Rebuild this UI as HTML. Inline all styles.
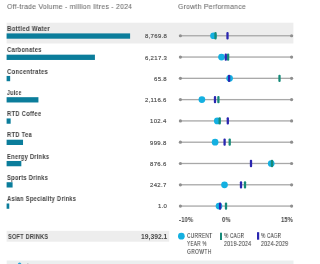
<!DOCTYPE html><html><head><meta charset="utf-8"><style>
html,body{margin:0;padding:0;background:#fff;}
body{width:300px;height:264px;overflow:hidden;position:relative;font-family:"Liberation Sans",sans-serif;}
.t{position:absolute;white-space:nowrap;will-change:transform;}
svg{position:absolute;left:0;top:0;}
</style></head><body>
<svg width="300" height="264" viewBox="0 0 300 264"><rect x="6.60" y="22.70" width="286.80" height="20.80" fill="#ededed"/><rect x="6.60" y="33.40" width="123.50" height="5.30" fill="#0b7d9b"/><rect x="180.40" y="35.10" width="111.20" height="1.30" fill="#a8a8a8"/><circle cx="180.40" cy="35.75" r="1.60" fill="#8f8f8f"/><circle cx="291.60" cy="35.75" r="1.60" fill="#8f8f8f"/><circle cx="213.50" cy="35.75" r="3.35" fill="#14b0e1"/><rect x="214.35" y="32.10" width="2.30" height="7.30" fill="#168a79" rx="1"/><rect x="226.35" y="32.10" width="2.30" height="7.30" fill="#2a26b0" rx="1"/><rect x="6.60" y="54.66" width="88.32" height="5.30" fill="#0b7d9b"/><rect x="180.40" y="56.39" width="111.20" height="1.30" fill="#a8a8a8"/><circle cx="180.40" cy="57.04" r="1.60" fill="#8f8f8f"/><circle cx="291.60" cy="57.04" r="1.60" fill="#8f8f8f"/><circle cx="221.50" cy="57.04" r="3.35" fill="#14b0e1"/><rect x="226.95" y="53.39" width="2.30" height="7.30" fill="#168a79" rx="1"/><rect x="224.65" y="53.39" width="2.30" height="7.30" fill="#2a26b0" rx="1"/><rect x="6.60" y="75.92" width="3.56" height="5.30" fill="#0b7d9b"/><rect x="180.40" y="77.68" width="111.20" height="1.30" fill="#a8a8a8"/><circle cx="180.40" cy="78.33" r="1.60" fill="#8f8f8f"/><circle cx="291.60" cy="78.33" r="1.60" fill="#8f8f8f"/><circle cx="229.60" cy="78.33" r="3.35" fill="#14b0e1"/><rect x="278.35" y="74.68" width="2.30" height="7.30" fill="#168a79" rx="1"/><rect x="227.95" y="74.68" width="2.30" height="7.30" fill="#2a26b0" rx="1"/><rect x="6.60" y="97.18" width="31.82" height="5.30" fill="#0b7d9b"/><rect x="180.40" y="98.97" width="111.20" height="1.30" fill="#a8a8a8"/><circle cx="180.40" cy="99.62" r="1.60" fill="#8f8f8f"/><circle cx="291.60" cy="99.62" r="1.60" fill="#8f8f8f"/><circle cx="201.90" cy="99.62" r="3.35" fill="#14b0e1"/><rect x="217.25" y="95.97" width="2.30" height="7.30" fill="#168a79" rx="1"/><rect x="213.85" y="95.97" width="2.30" height="7.30" fill="#2a26b0" rx="1"/><rect x="6.60" y="118.44" width="4.06" height="5.30" fill="#0b7d9b"/><rect x="180.40" y="120.26" width="111.20" height="1.30" fill="#a8a8a8"/><circle cx="180.40" cy="120.91" r="1.60" fill="#8f8f8f"/><circle cx="291.60" cy="120.91" r="1.60" fill="#8f8f8f"/><circle cx="217.30" cy="120.91" r="3.35" fill="#14b0e1"/><rect x="218.55" y="117.26" width="2.30" height="7.30" fill="#168a79" rx="1"/><rect x="226.65" y="117.26" width="2.30" height="7.30" fill="#2a26b0" rx="1"/><rect x="6.60" y="139.70" width="16.43" height="5.30" fill="#0b7d9b"/><rect x="180.40" y="141.55" width="111.20" height="1.30" fill="#a8a8a8"/><circle cx="180.40" cy="142.20" r="1.60" fill="#8f8f8f"/><circle cx="291.60" cy="142.20" r="1.60" fill="#8f8f8f"/><circle cx="215.10" cy="142.20" r="3.35" fill="#14b0e1"/><rect x="228.55" y="138.55" width="2.30" height="7.30" fill="#168a79" rx="1"/><rect x="223.45" y="138.55" width="2.30" height="7.30" fill="#2a26b0" rx="1"/><rect x="6.60" y="160.96" width="14.73" height="5.30" fill="#0b7d9b"/><rect x="180.40" y="162.84" width="111.20" height="1.30" fill="#a8a8a8"/><circle cx="180.40" cy="163.49" r="1.60" fill="#8f8f8f"/><circle cx="291.60" cy="163.49" r="1.60" fill="#8f8f8f"/><circle cx="271.20" cy="163.49" r="3.35" fill="#14b0e1"/><rect x="270.85" y="159.84" width="2.30" height="7.30" fill="#168a79" rx="1"/><rect x="249.85" y="159.84" width="2.30" height="7.30" fill="#2a26b0" rx="1"/><rect x="6.60" y="182.22" width="5.99" height="5.30" fill="#0b7d9b"/><rect x="180.40" y="184.13" width="111.20" height="1.30" fill="#a8a8a8"/><circle cx="180.40" cy="184.78" r="1.60" fill="#8f8f8f"/><circle cx="291.60" cy="184.78" r="1.60" fill="#8f8f8f"/><circle cx="224.50" cy="184.78" r="3.35" fill="#14b0e1"/><rect x="243.85" y="181.13" width="2.30" height="7.30" fill="#168a79" rx="1"/><rect x="239.85" y="181.13" width="2.30" height="7.30" fill="#2a26b0" rx="1"/><rect x="6.60" y="203.48" width="2.66" height="5.30" fill="#0b7d9b"/><rect x="180.40" y="205.42" width="111.20" height="1.30" fill="#a8a8a8"/><circle cx="180.40" cy="206.07" r="1.60" fill="#8f8f8f"/><circle cx="291.60" cy="206.07" r="1.60" fill="#8f8f8f"/><circle cx="219.00" cy="206.07" r="3.35" fill="#14b0e1"/><rect x="224.85" y="202.42" width="2.30" height="7.30" fill="#168a79" rx="1"/><rect x="218.95" y="202.42" width="2.30" height="7.30" fill="#2a26b0" rx="1"/><rect x="6.60" y="230.80" width="162.60" height="10.90" fill="#ededed"/><circle cx="181.35" cy="236.20" r="3.35" fill="#14b0e1"/><rect x="220.00" y="232.70" width="2.00" height="7.30" fill="#168a79"/><rect x="257.00" y="232.20" width="2.20" height="7.50" fill="#2a26b0"/><rect x="6.70" y="260.50" width="286.80" height="3.50" fill="#ebefef"/><circle cx="19.60" cy="264.20" r="1.70" fill="#2aa3d8"/><rect x="27.00" y="263.20" width="1.60" height="0.80" fill="#c4c8ca"/></svg>
<div class="t" style="left:7px;top:3.00px;font-size:7.9px;line-height:7.9px;color:#707070;font-weight:400;transform-origin:0 0;transform:scaleX(0.8683);-webkit-text-stroke:0.1px #707070;letter-spacing:0.3px;">Off-trade Volume - million litres - 2024</div>
<div class="t" style="left:178.3px;top:3.00px;font-size:7.9px;line-height:7.9px;color:#707070;font-weight:400;transform-origin:0 0;transform:scaleX(0.8696);-webkit-text-stroke:0.1px #707070;letter-spacing:0.3px;">Growth Performance</div>
<div class="t" style="left:6.8px;top:26.00px;font-size:6.7px;line-height:6.7px;color:#404040;font-weight:700;transform-origin:0 0;transform:scaleX(0.9123);letter-spacing:0.3px;">Bottled Water</div>
<div class="t" style="right:133.10px;text-align:right;top:33.00px;font-size:6.0px;line-height:6.0px;color:#4f4f4f;font-weight:400;-webkit-text-stroke:0.15px #4f4f4f;letter-spacing:0.3px;">8,769.8</div>
<div class="t" style="left:6.8px;top:47.00px;font-size:6.7px;line-height:6.7px;color:#404040;font-weight:700;transform-origin:0 0;transform:scaleX(0.8744);letter-spacing:0.3px;">Carbonates</div>
<div class="t" style="right:133.10px;text-align:right;top:55.00px;font-size:6.0px;line-height:6.0px;color:#4f4f4f;font-weight:400;-webkit-text-stroke:0.15px #4f4f4f;letter-spacing:0.3px;">6,217.3</div>
<div class="t" style="left:6.8px;top:69.00px;font-size:6.7px;line-height:6.7px;color:#404040;font-weight:700;transform-origin:0 0;transform:scaleX(0.8867);letter-spacing:0.3px;">Concentrates</div>
<div class="t" style="right:133.10px;text-align:right;top:76.00px;font-size:6.0px;line-height:6.0px;color:#4f4f4f;font-weight:400;-webkit-text-stroke:0.15px #4f4f4f;letter-spacing:0.3px;">65.8</div>
<div class="t" style="left:6.8px;top:90.00px;font-size:6.7px;line-height:6.7px;color:#404040;font-weight:700;transform-origin:0 0;transform:scaleX(0.7899);letter-spacing:0.3px;">Juice</div>
<div class="t" style="right:133.10px;text-align:right;top:97.00px;font-size:6.0px;line-height:6.0px;color:#4f4f4f;font-weight:400;-webkit-text-stroke:0.15px #4f4f4f;letter-spacing:0.3px;">2,116.6</div>
<div class="t" style="left:6.8px;top:111.00px;font-size:6.7px;line-height:6.7px;color:#404040;font-weight:700;transform-origin:0 0;transform:scaleX(0.8726);letter-spacing:0.3px;">RTD Coffee</div>
<div class="t" style="right:133.10px;text-align:right;top:118.00px;font-size:6.0px;line-height:6.0px;color:#4f4f4f;font-weight:400;-webkit-text-stroke:0.15px #4f4f4f;letter-spacing:0.3px;">102.4</div>
<div class="t" style="left:6.8px;top:132.00px;font-size:6.7px;line-height:6.7px;color:#404040;font-weight:700;transform-origin:0 0;transform:scaleX(0.8698);letter-spacing:0.3px;">RTD Tea</div>
<div class="t" style="right:133.10px;text-align:right;top:140.00px;font-size:6.0px;line-height:6.0px;color:#4f4f4f;font-weight:400;-webkit-text-stroke:0.15px #4f4f4f;letter-spacing:0.3px;">999.8</div>
<div class="t" style="left:6.8px;top:154.00px;font-size:6.7px;line-height:6.7px;color:#404040;font-weight:700;transform-origin:0 0;transform:scaleX(0.8590);letter-spacing:0.3px;">Energy Drinks</div>
<div class="t" style="right:133.10px;text-align:right;top:161.00px;font-size:6.0px;line-height:6.0px;color:#4f4f4f;font-weight:400;-webkit-text-stroke:0.15px #4f4f4f;letter-spacing:0.3px;">876.6</div>
<div class="t" style="left:6.8px;top:175.00px;font-size:6.7px;line-height:6.7px;color:#404040;font-weight:700;transform-origin:0 0;transform:scaleX(0.8606);letter-spacing:0.3px;">Sports Drinks</div>
<div class="t" style="right:133.10px;text-align:right;top:182.00px;font-size:6.0px;line-height:6.0px;color:#4f4f4f;font-weight:400;-webkit-text-stroke:0.15px #4f4f4f;letter-spacing:0.3px;">242.7</div>
<div class="t" style="left:6.8px;top:196.00px;font-size:6.7px;line-height:6.7px;color:#404040;font-weight:700;transform-origin:0 0;transform:scaleX(0.8569);letter-spacing:0.3px;">Asian Speciality Drinks</div>
<div class="t" style="right:133.10px;text-align:right;top:203.00px;font-size:6.0px;line-height:6.0px;color:#4f4f4f;font-weight:400;-webkit-text-stroke:0.15px #4f4f4f;letter-spacing:0.3px;">1.0</div>
<div class="t" style="left:179.4px;top:217.00px;font-size:6.3px;line-height:6.3px;color:#404040;font-weight:700;transform-origin:0 0;transform:scaleX(0.8992);letter-spacing:0.3px;">-10%</div>
<div class="t" style="left:222.4px;top:217.00px;font-size:6.3px;line-height:6.3px;color:#404040;font-weight:700;transform-origin:0 0;transform:scaleX(0.9166);letter-spacing:0.3px;">0%</div>
<div class="t" style="left:281.2px;top:217.00px;font-size:6.3px;line-height:6.3px;color:#404040;font-weight:700;transform-origin:0 0;transform:scaleX(0.8957);letter-spacing:0.3px;">15%</div>
<div class="t" style="left:8.0px;top:234.00px;font-size:6.5px;line-height:6.5px;color:#404040;font-weight:700;transform-origin:0 0;transform:scaleX(0.8509);letter-spacing:0.3px;">SOFT DRINKS</div>
<div class="t" style="right:132.50px;text-align:right;top:234.00px;font-size:6.75px;line-height:6.75px;color:#4a4a4a;font-weight:700;">19,392.1</div>
<div class="t" style="left:186.7px;top:233.00px;font-size:6.3px;line-height:6.3px;color:#454545;font-weight:400;transform-origin:0 0;transform:scaleX(0.7691);-webkit-text-stroke:0.08px #454545;letter-spacing:0.3px;">CURRENT</div>
<div class="t" style="left:186.7px;top:241.00px;font-size:6.3px;line-height:6.3px;color:#454545;font-weight:400;transform-origin:0 0;transform:scaleX(0.7452);-webkit-text-stroke:0.08px #454545;letter-spacing:0.3px;">YEAR %</div>
<div class="t" style="left:186.7px;top:249.00px;font-size:6.3px;line-height:6.3px;color:#454545;font-weight:400;transform-origin:0 0;transform:scaleX(0.8036);-webkit-text-stroke:0.08px #454545;letter-spacing:0.3px;">GROWTH</div>
<div class="t" style="left:224.0px;top:233.00px;font-size:6.3px;line-height:6.3px;color:#454545;font-weight:400;transform-origin:0 0;transform:scaleX(0.7423);-webkit-text-stroke:0.08px #454545;letter-spacing:0.3px;">% CAGR</div>
<div class="t" style="left:224.0px;top:241.00px;font-size:6.3px;line-height:6.3px;color:#454545;font-weight:400;transform-origin:0 0;transform:scaleX(0.8317);-webkit-text-stroke:0.08px #454545;letter-spacing:0.3px;">2019-2024</div>
<div class="t" style="left:261.3px;top:233.00px;font-size:6.3px;line-height:6.3px;color:#454545;font-weight:400;transform-origin:0 0;transform:scaleX(0.7423);-webkit-text-stroke:0.08px #454545;letter-spacing:0.3px;">% CAGR</div>
<div class="t" style="left:261.3px;top:241.00px;font-size:6.3px;line-height:6.3px;color:#454545;font-weight:400;transform-origin:0 0;transform:scaleX(0.8317);-webkit-text-stroke:0.08px #454545;letter-spacing:0.3px;">2024-2029</div>
</body></html>
